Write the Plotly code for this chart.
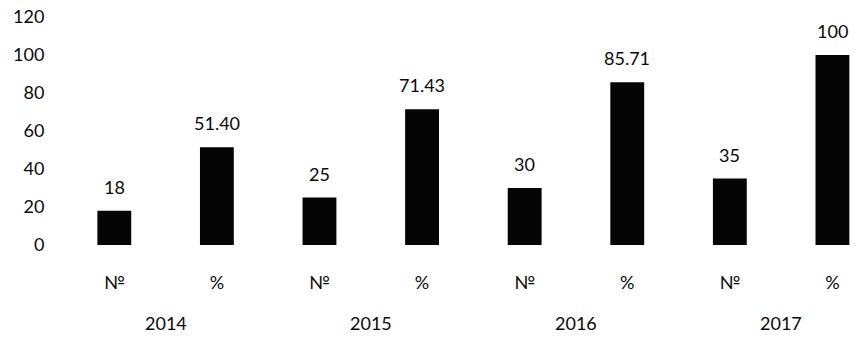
import plotly.graph_objects as go

years = ["2014", "2015", "2016", "2017"]
kinds = ["№", "%"]
values = [18, 51.40, 25, 71.43, 30, 85.71, 35, 100]
value_labels = ["18", "51.40", "25", "71.43", "30", "85.71", "35", "100"]
y_ticks = [0, 20, 40, 60, 80, 100, 120]

cat_labels = [k for _ in years for k in kinds]
xpos = list(range(len(values)))

FONT = "Lato"
fig = go.Figure()
fig.add_trace(go.Bar(x=xpos, y=values, width=0.33,
                     marker=dict(color="#050505", line=dict(width=0))))

for i, (v, t) in enumerate(zip(values, value_labels)):
    fig.add_annotation(x=i, y=v, text=t, showarrow=False, yanchor="bottom",
                       yshift=11, font=dict(family=FONT, size=18, color="#0a0a0a"))

for j, yr in enumerate(years):
    fig.add_annotation(x=2 * j + 0.5, y=0, yref="paper", text=yr, showarrow=False,
                       yanchor="middle", yshift=-78,
                       font=dict(family=FONT, size=18, color="#0a0a0a"))

fig.update_layout(
    width=855, height=338,
    margin=dict(l=63, r=0, t=17, b=93),
    paper_bgcolor="white", plot_bgcolor="white",
    showlegend=False,
    font=dict(family=FONT, size=18, color="#0a0a0a"),
    xaxis=dict(range=[-0.5, 7.22], tickvals=xpos, ticktext=cat_labels,
               showgrid=False, zeroline=False, showline=False,
               ticks="outside", ticklen=21, tickcolor="rgba(0,0,0,0)"),
    yaxis=dict(range=[0, 120], tickvals=y_ticks, showgrid=False,
               zeroline=False, showline=False,
               ticks="outside", ticklen=14, tickcolor="rgba(0,0,0,0)"),
)

fig.write_html("out.html")
